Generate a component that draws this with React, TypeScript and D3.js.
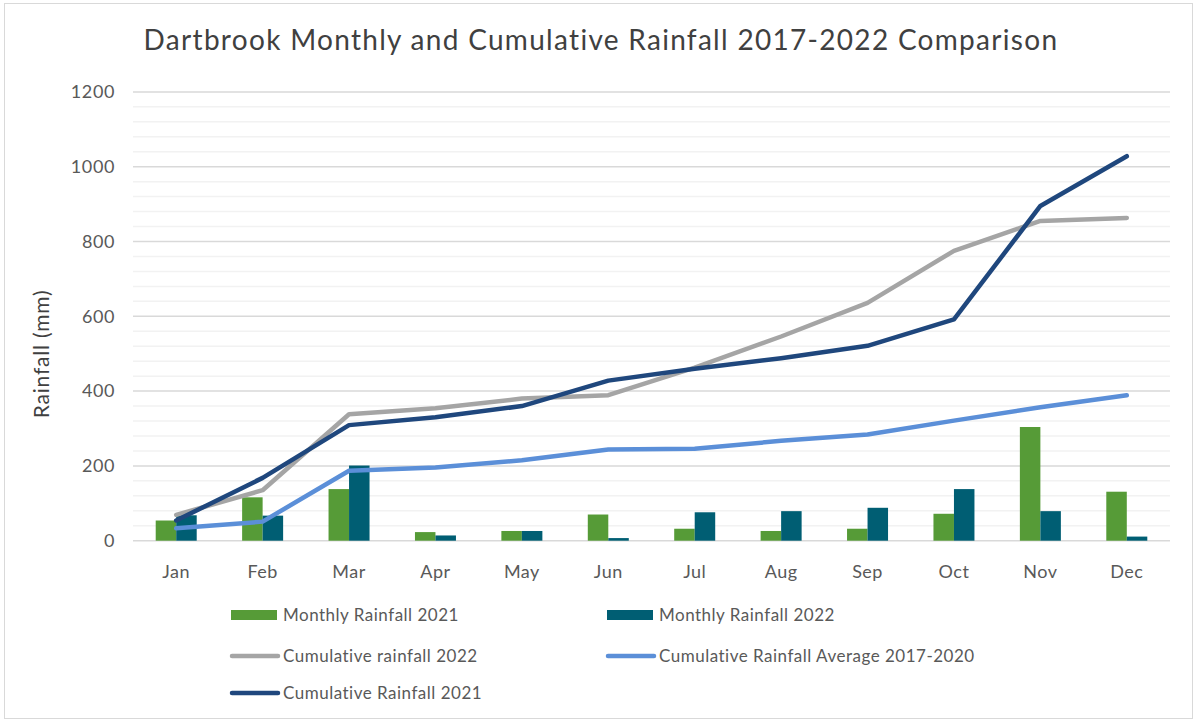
import React from "react";
import * as d3 from "d3";

const months = ["Jan","Feb","Mar","Apr","May","Jun","Jul","Aug","Sep","Oct","Nov","Dec"];
const monthly2021 = [54,116,138,23,26,70,32,26,32,72,304,131];
const monthly2022 = [68,67,201,14,26,7,76,79,88,138,79,11];
const cum2022 = [69,135,338,354,380,389,463,546,636,775,855,863];
const avg1720 = [33,51,187,196,215,244,246,267,284,321,357,389];
const cum2021 = [54,168,309,330,360,428,460,488,521,592,895,1028];
const yTicks = [0,200,400,600,800,1000,1200];
const minorTicks = d3.range(0, 1201, 40);

const W = 1197, H = 722;
const FONT = "Lato, 'Open Sans', sans-serif";
const C = {
  green: "#569B37",
  teal: "#005E73",
  gray: "#A5A5A5",
  blue: "#5B8FD8",
  navy: "#1F477D",
};

export default function App() {
  const x = d3.scaleBand<string>().domain(months).range([133, 1170]);
  const y = d3.scaleLinear().domain([0, 1200]).range([540.7, 91.9]);
  const bw = 20.5;
  const cx = (m: string) => (x(m) as number) + x.bandwidth() / 2;
  const line = d3.line<number>().x((_, i) => cx(months[i])).y((d) => y(d));

  const lines = [
    { data: cum2022, color: C.gray },
    { data: avg1720, color: C.blue },
    { data: cum2021, color: C.navy },
  ];

  const legend = [
    { label: "Monthly Rainfall 2021", color: C.green, type: "bar", lx: 231, ly: 615 },
    { label: "Monthly Rainfall 2022", color: C.teal, type: "bar", lx: 607, ly: 615 },
    { label: "Cumulative rainfall 2022", color: C.gray, type: "line", lx: 231, ly: 656 },
    { label: "Cumulative Rainfall Average 2017-2020", color: C.blue, type: "line", lx: 607, ly: 656 },
    { label: "Cumulative Rainfall 2021", color: C.navy, type: "line", lx: 231, ly: 693 },
  ];

  return (
    <svg width={W} height={H} style={{ position: "absolute", left: 0, top: 0, background: "#fff" }} fontFamily={FONT}>
      <rect x={4.5} y={3.5} width={W - 9} height={H - 7} fill="#fff" stroke="#d9d9d9" strokeWidth={1} />
      <text x={601} y={50} textAnchor="middle" fontSize={28} letterSpacing={1.3} fill="#404040">
        Dartbrook Monthly and Cumulative Rainfall 2017-2022 Comparison
      </text>
      {minorTicks.map((t) => (
        <line key={"m" + t} x1={133} x2={1170} y1={y(t)} y2={y(t)} stroke={t % 200 === 0 ? "#d9d9d9" : "#f2f2f2"} strokeWidth={1.5} />
      ))}
      {yTicks.map((t) => (
        <text key={"t" + t} x={115} y={y(t)} dy="0.35em" textAnchor="end" fontSize={18} letterSpacing={0.6} fill="#595959">
          {t}
        </text>
      ))}
      <text transform={`translate(49,354) rotate(-90)`} textAnchor="middle" fontSize={21} letterSpacing={0.8} fill="#404040">
        Rainfall (mm)
      </text>
      {months.map((m) => (
        <text key={"x" + m} x={cx(m)} y={578} textAnchor="middle" fontSize={18} letterSpacing={0.5} fill="#595959">
          {m}
        </text>
      ))}
      {months.map((m, i) => (
        <g key={"b" + m}>
          <rect x={cx(m) - bw} y={y(monthly2021[i])} width={bw} height={y(0) - y(monthly2021[i])} fill={C.green} />
          <rect x={cx(m)} y={y(monthly2022[i])} width={bw} height={y(0) - y(monthly2022[i])} fill={C.teal} />
        </g>
      ))}
      {lines.map((l, i) => (
        <path key={"l" + i} d={line(l.data) as string} fill="none" stroke={l.color} strokeWidth={4.5} strokeLinecap="round" strokeLinejoin="round" />
      ))}
      {legend.map((g) => (
        <g key={g.label}>
          {g.type === "bar" ? (
            <rect x={g.lx} y={g.ly - 5} width={46} height={10} fill={g.color} />
          ) : (
            <line x1={g.lx + 1} x2={g.lx + 47} y1={g.ly} y2={g.ly} stroke={g.color} strokeWidth={4.5} strokeLinecap="round" />
          )}
          <text x={g.lx + 52} y={g.ly} dy="0.35em" fontSize={17} letterSpacing={0.5} fill="#595959">
            {g.label}
          </text>
        </g>
      ))}
    </svg>
  );
}
